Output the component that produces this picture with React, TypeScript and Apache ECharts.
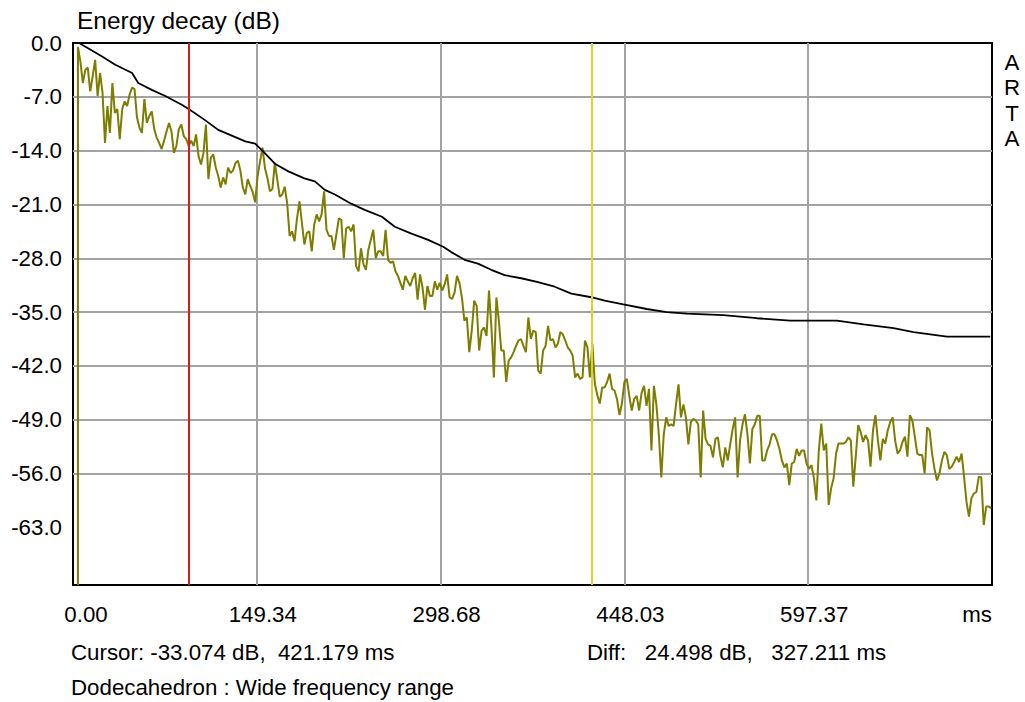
import React, { useEffect, useRef } from 'react';
import * as echarts from 'echarts';

const FONT = '"Liberation Sans", Arial, sans-serif';

// ---- axis data ----
const TITLE = 'Energy decay (dB)';
const X_MAX = 746.71;
const X_STEP = 149.342;
const Y_MIN = -70.5;
const yTickValues = [0, -7, -14, -21, -28, -35, -42, -49, -56, -63];
const X_UNIT = 'ms';

// ---- cursors ----
const redCursorMs = 93.968;
const yellowCursorMs = 421.179;
const cursorText = 'Cursor: -33.074 dB,  421.179 ms';
const diffText = 'Diff:   24.498 dB,   327.211 ms';
const captionText = 'Dodecahedron : Wide frequency range';
const sideText = 'A\nR\nT\nA';

// ---- olive curve (energy, dB) sampled every 2 ms ----
const OLIVE_STEP = 2;
const oliveOnset: [number, number] = [4, -70.5];
const oliveSeg1Start = 4;
const oliveSeg1 = [
  -0.5, -2.4, -5.2, -3.5, -3.2, -6.3, -4.3, -2.2, -6.9, -3.9,
  -6.5, -13.0, -8.2, -11.7, -5.2, -9.1, -8.6, -12.5, -8.6, -7.6,
  -8.2, -6.7, -5.8, -6.0, -9.7, -11.0, -11.7, -7.3, -10.4, -9.5,
  -8.9, -11.2, -12.3, -13.0, -13.8, -12.7, -11.5, -10.4, -11.5, -14.3,
  -13.4, -11.2, -10.6, -12.1, -12.5, -13.4, -12.7, -13.4, -11.9, -14.7,
  -15.8, -14.3, -10.6, -17.7, -14.9, -14.5, -16.2, -17.3, -18.8, -17.5,
  -18.4, -16.2, -16.9, -16.6, -15.6, -15.3, -16.6, -18.8, -19.7, -17.7,
  -18.6, -19.4, -20.7, -17.3,
];
const oliveSeg2Start = 152;
const oliveSeg2 = [
  -15.4, -13.6, -16.3, -17.6, -19.3, -19.0, -15.6, -17.8, -20.0, -19.7,
  -18.7, -20.8, -25.1, -24.5, -25.8, -22.8, -20.6, -23.4, -26.2, -24.7,
  -24.5, -27.1, -23.6, -22.3, -23.2, -22.3, -19.3, -24.3, -25.1, -25.1,
  -26.9, -24.9, -22.8, -23.0, -28.0, -24.1, -23.9, -24.5, -23.6, -29.0,
  -29.7, -26.7, -28.8, -29.5, -26.9, -25.6, -24.3, -28.0, -27.1, -27.1,
  -27.7, -24.3, -28.2, -28.6, -28.4, -29.7, -30.3, -31.2, -32.1, -30.3,
  -31.0, -31.6, -30.6, -29.9, -33.4, -30.1, -31.8, -34.7, -31.6, -32.9,
  -32.9, -31.0, -32.1, -31.2,
];
const oliveSeg3Start = 300;
const oliveSeg3 = [
  -32.2, -31.4, -30.1, -33.1, -33.3, -32.5, -30.3, -31.2, -33.1, -36.1,
  -35.7, -40.2, -37.4, -33.5, -34.2, -40.0, -37.4, -37.0, -38.1, -32.2,
  -37.0, -43.5, -33.1, -36.1, -40.0, -40.0, -44.1, -41.3, -40.9, -40.2,
  -39.4, -38.7, -38.5, -39.4, -40.2, -35.7, -38.5, -37.4, -37.6, -42.6,
  -43.0, -40.0, -39.4, -36.8, -38.7, -38.5, -39.6, -39.1, -37.6, -37.9,
  -38.7, -39.6, -40.0, -40.7, -43.5, -43.0, -43.7, -43.5, -38.7, -39.6,
  -43.5, -39.1, -44.3, -45.8, -46.9, -44.8, -44.8, -44.1, -43.0, -45.0,
  -45.2, -46.3, -48.4, -46.9, -44.1,
];
const oliveSeg4Start = 450;
const oliveSeg4 = [
  -43.7, -45.9, -47.8, -46.3, -45.9, -47.8, -45.5, -44.6, -47.2, -45.0,
  -53.0, -44.6, -47.0, -50.9, -56.5, -50.9, -48.7, -49.8, -49.6, -49.8,
  -47.0, -44.4, -48.7, -47.0, -48.7, -52.2, -49.3, -48.9, -49.1, -49.6,
  -56.5, -47.8, -51.5, -52.2, -52.4, -53.9, -51.5, -51.3, -53.7, -55.2,
  -52.6, -54.3, -52.2, -50.2, -48.7, -56.5, -51.7, -49.6, -48.3, -50.9,
  -54.7, -50.2, -49.6, -48.5, -48.5, -54.3, -54.3, -53.0, -52.2, -50.9,
  -50.9, -51.7, -52.8, -54.3, -55.2, -54.7, -57.5, -54.7, -54.5, -52.8,
  -53.7, -53.0, -53.0, -54.7,
];
const oliveSeg5Start = 598;
const oliveSeg5 = [
  -55.4, -54.9, -56.6, -59.5, -53.0, -49.5, -53.0, -52.1, -60.1, -57.9,
  -56.6, -53.4, -52.1, -52.1, -52.1, -51.9, -51.3, -51.7, -57.7, -53.8,
  -49.7, -50.6, -51.9, -51.0, -51.7, -55.1, -50.4, -48.4, -51.7, -54.3,
  -51.5, -52.1, -50.4, -49.3, -48.7, -51.7, -53.4, -53.0, -51.9, -51.2,
  -53.8, -48.4, -49.1, -51.2, -53.4, -53.6, -53.6, -56.0, -50.0, -50.4,
  -53.4, -55.4, -56.9, -56.0, -54.3, -53.2, -53.6, -55.4, -55.1, -54.5,
  -53.8, -54.5, -53.4, -56.4, -59.7, -61.6, -59.2, -58.6, -58.4, -56.4,
  -56.5, -62.7, -60.3, -60.3, -60.5,
];

// ---- black curve (integrated decay) [ms, dB] ----
const decayCurve: [number, number][] = [
  [5, 0], [7, -0.2], [23, -1.7], [34, -2.8], [48, -3.9], [53, -5.2], [64, -6.1],
  [75, -6.9], [88, -8.0], [94, -8.58], [107, -10.0], [118, -11.3], [140, -12.8],
  [148, -13.1], [154.5, -14.1], [164, -15.7], [175, -16.7], [188, -17.6],
  [196.5, -18.0], [204.6, -19.1], [212.8, -19.7], [226, -20.9], [237, -21.7],
  [251, -22.6], [261.5, -23.9], [275, -24.8], [288.6, -25.6], [300.8, -26.5],
  [307.3, -27.2], [318.2, -28.2], [329, -28.7], [339.8, -29.5], [350.7, -30.2],
  [364.2, -30.6], [377.8, -31.1], [391.4, -31.7], [404.9, -32.6], [421.2, -33.07],
  [432, -33.5], [447.2, -34.0], [466.2, -34.6], [482.4, -35.0], [498.7, -35.2],
  [528.5, -35.4], [555.6, -35.8], [582.7, -36.1], [620.7, -36.1], [642.3, -36.6],
  [666.7, -37.1], [683, -37.6], [710.1, -38.2], [745.3, -38.2],
];

function buildOlive(): [number, number][] {
  const segs: [number, number[]][] = [
    [oliveSeg1Start, oliveSeg1],
    [oliveSeg2Start, oliveSeg2],
    [oliveSeg3Start, oliveSeg3],
    [oliveSeg4Start, oliveSeg4],
    [oliveSeg5Start, oliveSeg5],
  ];
  const out: [number, number][] = [oliveOnset];
  segs.forEach(([start, vals]) => {
    vals.forEach((v, i) => out.push([start + i * OLIVE_STEP, v]));
  });
  return out;
}

function buildOption(): any {
  const fs = 22.3;
  const textStyle = { fontFamily: FONT, fontSize: fs, color: '#000' };
  const gText = (text: string, x: number, y: number) => ({
    type: 'text',
    x,
    y,
    style: { text, fontFamily: FONT, fontSize: fs, fill: '#000', align: 'left', verticalAlign: 'middle' },
  });
  return {
    animation: false,
    backgroundColor: '#ffffff',
    title: {
      text: TITLE,
      left: 77,
      top: 8,
      padding: 0,
      textStyle: { fontFamily: FONT, fontSize: 24.5, fontWeight: 'normal', color: '#000' },
    },
    grid: {
      left: 73,
      top: 43,
      width: 919,
      height: 542,
      show: true,
      borderColor: '#000',
      borderWidth: 2,
      backgroundColor: 'transparent',
      outerBoundsMode: 'none',
    },
    xAxis: {
      type: 'value',
      min: 0,
      max: X_MAX,
      interval: X_STEP,
      axisLine: { show: false },
      axisTick: { show: false },
      splitLine: {
        show: true,
        showMinLine: false,
        showMaxLine: false,
        lineStyle: { color: '#a3a3a3', width: 2 },
      },
      axisLabel: {
        ...textStyle,
        margin: 18,
        showMinLabel: true,
        showMaxLabel: true,
        alignMaxLabel: 'right',
        formatter: (v: number) => {
          if (v > X_MAX - 1) return X_UNIT;
          if (v === 0) return '{z|0.00}';
          return '{n|' + v.toFixed(2) + '}';
        },
        rich: {
          z: { ...textStyle, padding: [0, 0, 0, 26] },
          n: { ...textStyle, padding: [0, 0, 0, 12] },
        },
      },
    },
    yAxis: {
      type: 'value',
      min: Y_MIN,
      max: 0,
      axisLine: { show: false },
      axisTick: { show: false, customValues: yTickValues },
      splitLine: {
        show: true,
        showMinLine: false,
        showMaxLine: false,
        lineStyle: { color: '#a3a3a3', width: 2 },
      },
      axisLabel: {
        ...textStyle,
        margin: 11,
        customValues: yTickValues,
        formatter: (v: number) => v.toFixed(1),
      },
    },
    graphic: [
      gText(cursorText, 71, 652.5),
      gText(diffText, 587, 652.5),
      gText(captionText, 71, 687.5),
      {
        type: 'text',
        x: 1012,
        y: 50,
        style: { text: sideText, fontFamily: FONT, fontSize: fs, fill: '#000', align: 'center', verticalAlign: 'top', lineHeight: 25.3 },
      },
    ],
    series: [
      {
        name: 'energy',
        type: 'line',
        data: buildOlive(),
        symbol: 'none',
        showSymbol: false,
        lineStyle: { color: '#7d7d00', width: 2 },
        emphasis: { disabled: true },
        silent: true,
        z: 2,
      },
      {
        name: 'decay',
        type: 'line',
        data: decayCurve,
        symbol: 'none',
        showSymbol: false,
        lineStyle: { color: '#000', width: 1.8 },
        emphasis: { disabled: true },
        silent: true,
        z: 3,
      },
      {
        name: 'cursors',
        type: 'line',
        data: [],
        symbol: 'none',
        silent: true,
        z: 4,
        markLine: {
          silent: true,
          symbol: ['none', 'none'],
          label: { show: false },
          emphasis: { disabled: true },
          data: [
            { xAxis: redCursorMs, lineStyle: { color: '#e01818', width: 2, type: 'solid' } },
            { xAxis: yellowCursorMs, lineStyle: { color: '#d8d82a', width: 2, type: 'solid' } },
          ],
        },
      },
    ],
  };
}

export default function App() {
  const ref = useRef<HTMLDivElement>(null);
  useEffect(() => {
    if (!ref.current) return;
    const chart = echarts.init(ref.current, null, { renderer: 'svg' });
    chart.setOption(buildOption());
    return () => chart.dispose();
  }, []);
  return (
    <div
      ref={ref}
      style={{ position: 'fixed', left: 0, top: 0, width: 1025, height: 702, background: '#fff' }}
    />
  );
}
